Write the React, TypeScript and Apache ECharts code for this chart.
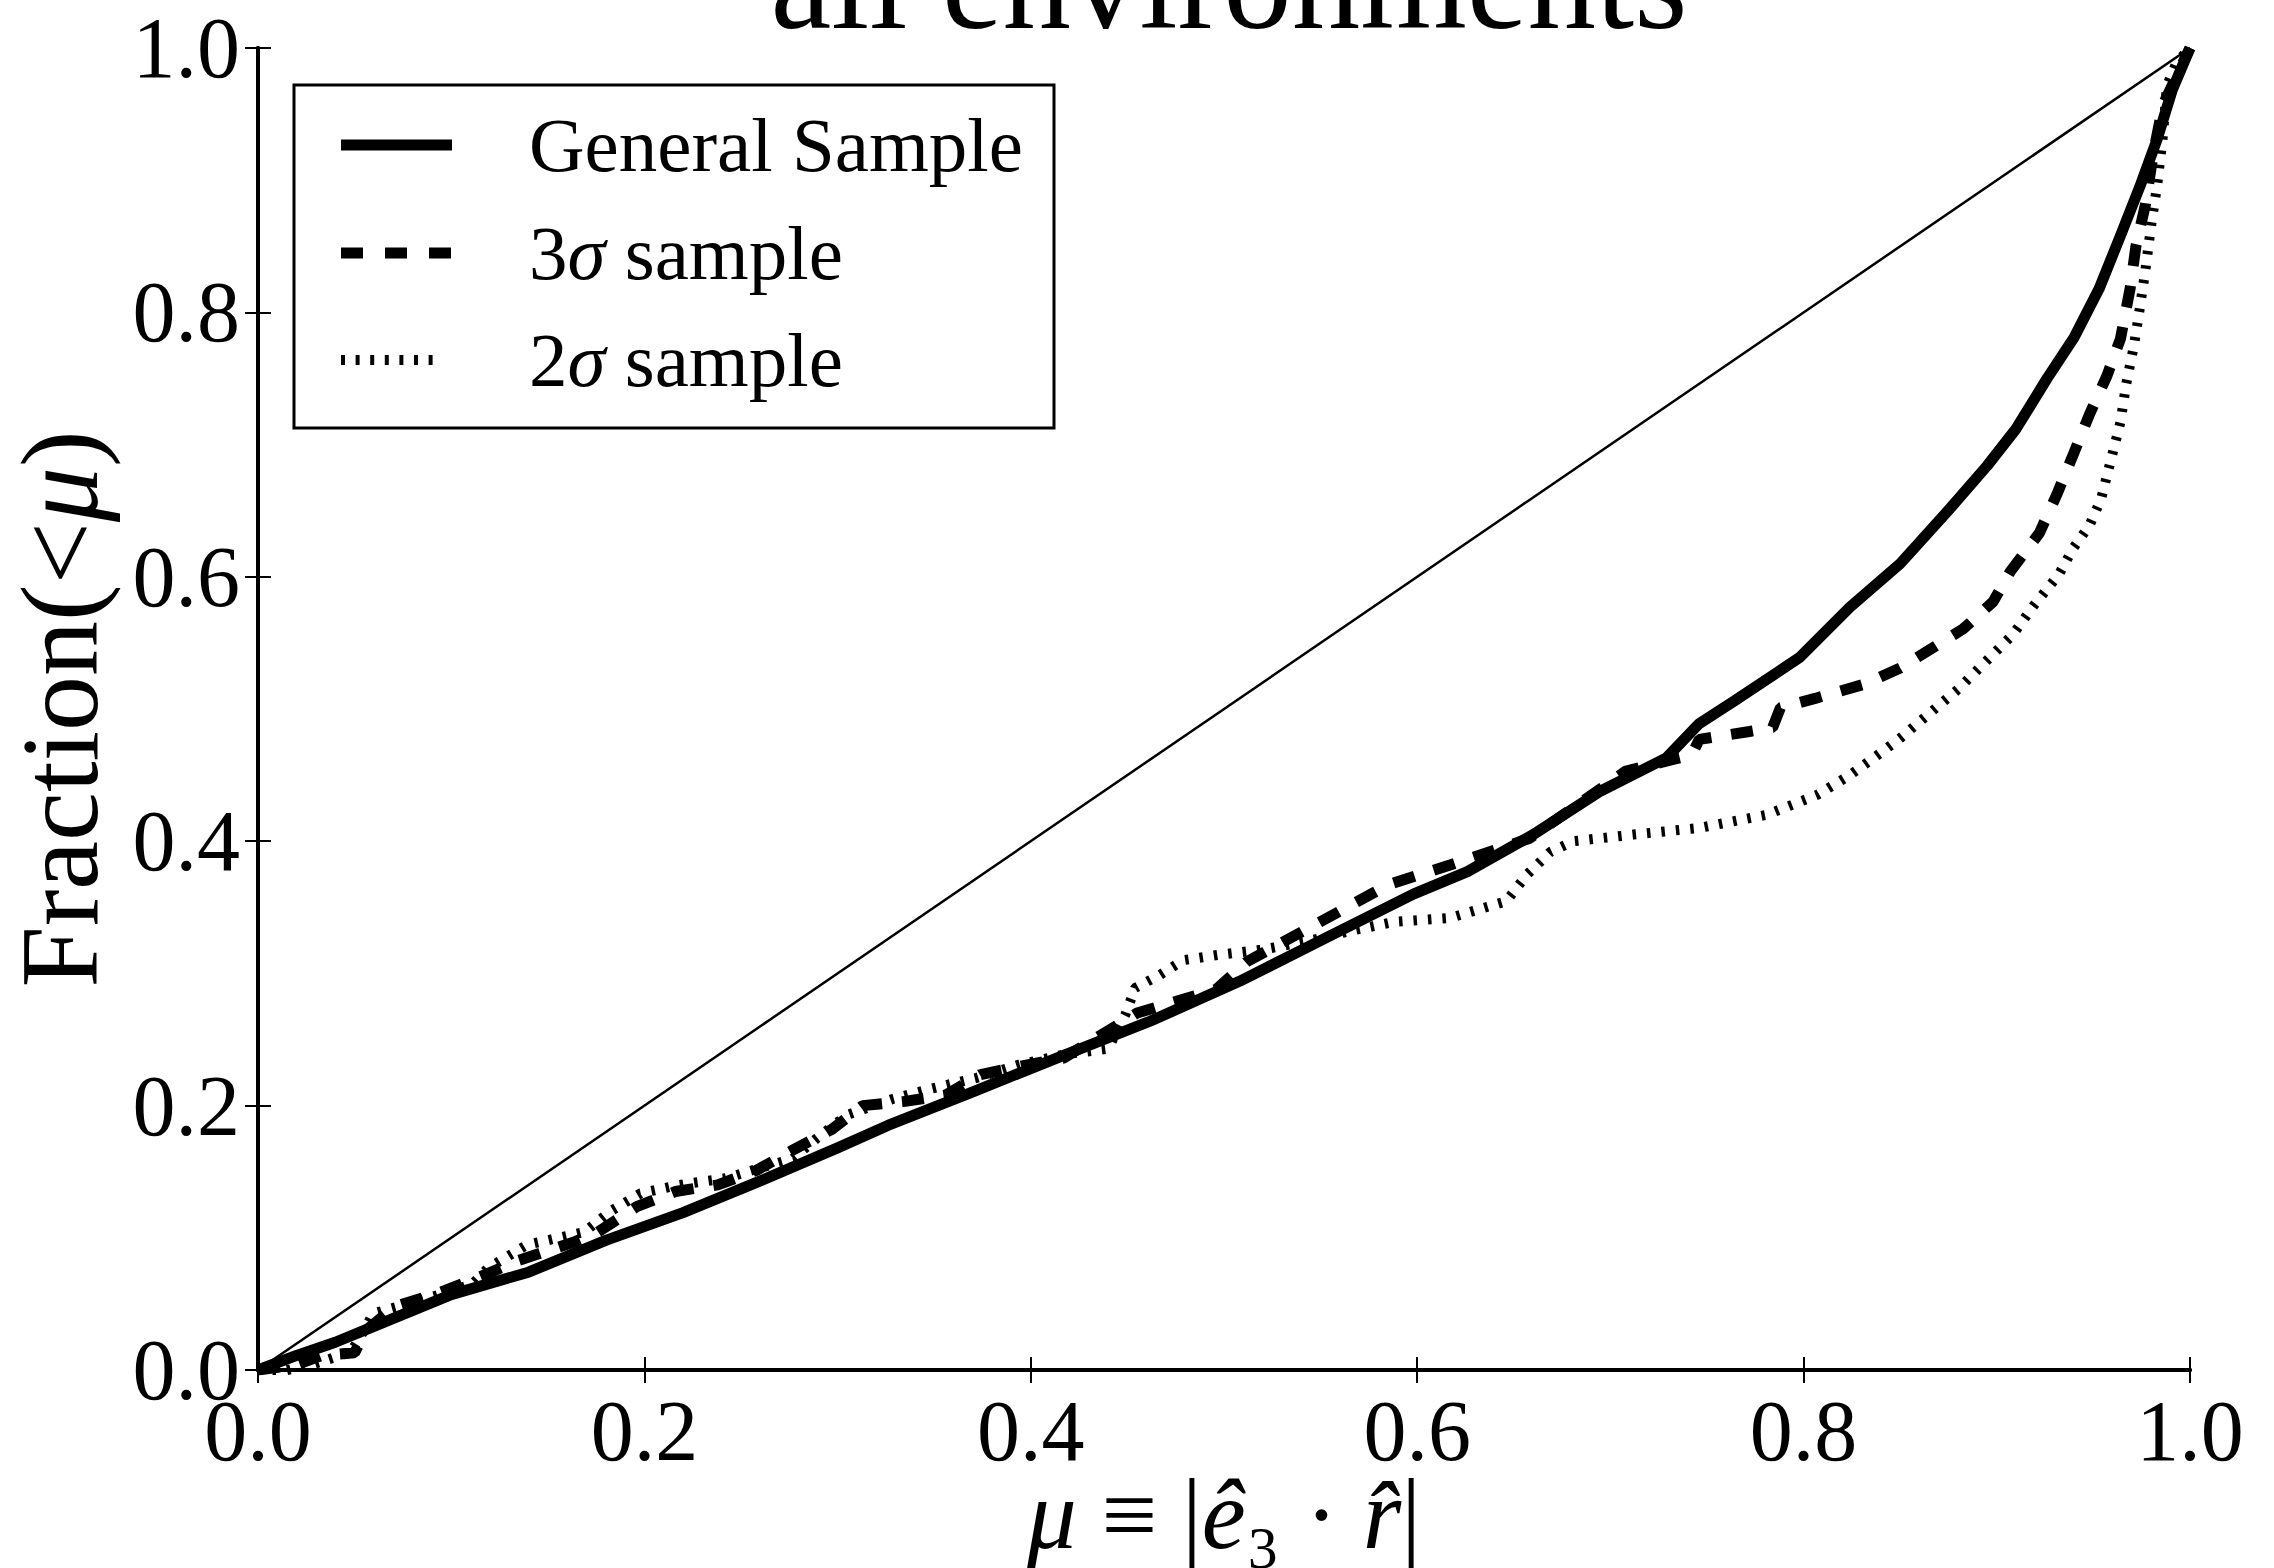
import React, { useEffect, useRef } from "react";
import * as echarts from "echarts";

const xTicks = [0, 0.2, 0.4, 0.6, 0.8, 1.0];

const generalX = [0, 0.02, 0.04, 0.06, 0.10, 0.14, 0.18, 0.22, 0.26, 0.30, 0.326, 0.371, 0.417, 0.462, 0.508, 0.553, 0.598, 0.626, 0.66, 0.695, 0.729, 0.746, 0.764, 0.798, 0.824, 0.85, 0.876, 0.895, 0.91, 0.926, 0.94, 0.953, 0.964, 0.974, 0.983, 0.991, 1.0];
const generalY = [0, 0.011, 0.021, 0.033, 0.057, 0.074, 0.098, 0.119, 0.143, 0.168, 0.185, 0.211, 0.238, 0.264, 0.294, 0.327, 0.36, 0.377, 0.405, 0.438, 0.463, 0.489, 0.506, 0.539, 0.577, 0.61, 0.652, 0.684, 0.712, 0.75, 0.781, 0.818, 0.858, 0.895, 0.931, 0.969, 1.0];

const sigma3X = [0, 0.02, 0.033, 0.05, 0.056, 0.071, 0.093, 0.115, 0.135, 0.164, 0.176, 0.196, 0.216, 0.238, 0.258, 0.277, 0.297, 0.313, 0.334, 0.356, 0.374, 0.399, 0.417, 0.455, 0.496, 0.512, 0.585, 0.617, 0.658, 0.708, 0.733, 0.742, 0.746, 0.772, 0.784, 0.788, 0.806, 0.832, 0.85, 0.8826, 0.898, 0.907, 0.922, 0.931, 0.94, 0.948, 0.957, 0.964, 0.969, 0.972, 0.977, 0.981, 0.986, 1.0];
const sigma3Y = [0, 0.004, 0.011, 0.013, 0.03, 0.048, 0.058, 0.0705, 0.083, 0.097, 0.1045, 0.1235, 0.135, 0.14, 0.151, 0.1665, 0.182, 0.2, 0.203, 0.208, 0.2235, 0.231, 0.236, 0.27, 0.288, 0.309, 0.367, 0.382, 0.402, 0.453, 0.462, 0.465, 0.477, 0.483, 0.486, 0.501, 0.508, 0.519, 0.531, 0.5606, 0.581, 0.604, 0.633, 0.662, 0.694, 0.723, 0.752, 0.78, 0.818, 0.85, 0.882, 0.92, 0.957, 1.0];

const sigma2X = [0, 0.015, 0.028, 0.048, 0.055, 0.0595, 0.075, 0.093, 0.111, 0.119, 0.139, 0.169, 0.182, 0.198, 0.218, 0.242, 0.258, 0.277, 0.289, 0.305, 0.3285, 0.349, 0.372, 0.394, 0.417, 0.44, 0.449, 0.454, 0.467, 0.479, 0.497, 0.52, 0.542, 0.565, 0.588, 0.617, 0.646, 0.657, 0.669, 0.681, 0.712, 0.746, 0.781, 0.807, 0.824, 0.841, 0.85, 0.88, 0.9085, 0.919, 0.932, 0.9395, 0.948, 0.954, 0.959, 0.964, 0.967, 0.971, 0.974, 0.977, 0.98, 0.983, 0.986, 0.988, 0.993, 1.0];
const sigma2Y = [0, 0.0, 0.004, 0.0136, 0.03, 0.0427, 0.049, 0.0566, 0.065, 0.077, 0.0945, 0.1045, 0.1197, 0.1336, 0.14, 0.145, 0.152, 0.16, 0.175, 0.193, 0.205, 0.213, 0.221, 0.231, 0.2386, 0.243, 0.269, 0.289, 0.299, 0.31, 0.314, 0.318, 0.324, 0.332, 0.339, 0.342, 0.3545, 0.375, 0.392, 0.4, 0.405, 0.41, 0.42, 0.435, 0.45, 0.468, 0.478, 0.515, 0.5566, 0.578, 0.6015, 0.6215, 0.639, 0.659, 0.688, 0.717, 0.746, 0.775, 0.803, 0.833, 0.867, 0.896, 0.934, 0.971, 0.989, 1.0];

const diagX = [0, 1];
const diagY = [0, 1];

const seriesNames = ["General Sample", "3σ sample", "2σ sample"];
const titleText = "all environments";

const FONT = "'Liberation Serif', 'DejaVu Serif', serif";

const zip = (xs: number[], ys: number[]) => xs.map((x, i) => [x, ys[i]]);

export default function App() {
  const ref = useRef<HTMLDivElement>(null);
  useEffect(() => {
    document.body.style.margin = "0";
    const chart = echarts.init(ref.current!, undefined, { renderer: "svg" });
    const L = 258, T = 48, W = 1932, H = 1322;
    const axisCommon = {
      type: "value",
      min: 0,
      max: 1,
      interval: 0.2,
      splitLine: { show: false },
      axisLine: { show: true, lineStyle: { color: "#000", width: 4 } },
      axisTick: { show: true, inside: true, length: 13, lineStyle: { color: "#000", width: 2 } },
    };
    const labelCommon = {
      color: "#000",
      fontFamily: FONT,
      fontSize: 86,
      showMinLabel: true,
      showMaxLabel: true,
      formatter: (v: number) => v.toFixed(1),
    };
    const legendX0 = 341, legendX1 = 452, legendTextX = 529;
    const rowsY = [145, 253, 360];
    const rich = {
      n: { fontFamily: FONT, fontSize: 77, color: "#000" },
      i: { fontFamily: FONT, fontSize: 77, fontStyle: "italic", color: "#000" },
    };
    const xRich = {
      n: { fontFamily: FONT, fontSize: 99, lineHeight: 90, color: "#000" },
      i: { fontFamily: FONT, fontSize: 99, lineHeight: 90, fontStyle: "italic", color: "#000" },
      s: { fontFamily: FONT, fontSize: 99, lineHeight: 90, color: "#000" },
    };
    chart.setOption({
      animation: false,
      backgroundColor: "#fff",
      title: {
        text: titleText,
        left: L + W / 2,
        textAlign: "center",
        top: -92,
        textStyle: { fontFamily: FONT, fontSize: 137, fontWeight: "normal", color: "#000" },
      },
      grid: { left: L, top: T, width: W, height: H, containLabel: false, outerBoundsMode: "none" },
      xAxis: [
        {
          ...axisCommon,
          position: "bottom",
          axisLabel: { ...labelCommon, margin: 18 },
        },
        {
          ...axisCommon,
          position: "top",
          axisLabel: { show: false },
        },
      ],
      yAxis: [
        {
          ...axisCommon,
          position: "left",
          axisLabel: { ...labelCommon, margin: 18 },
          name: "{n|Fraction(<}{i|μ}{n|)}",
          nameLocation: "middle",
          nameGap: 143,
          nameTextStyle: {
            rich: {
              n: { fontFamily: FONT, fontSize: 110, color: "#000" },
              i: { fontFamily: FONT, fontSize: 110, fontStyle: "italic", color: "#000" },
            },
          },
        },
        {
          ...axisCommon,
          position: "right",
          axisLabel: { show: false },
        },
      ],
      series: [
        {
          type: "line",
          name: "diagonal",
          data: zip(diagX, diagY),
          showSymbol: false,
          symbol: "none",
          lineStyle: { color: "#000", width: 2.5 },
          z: 2,
        },
        {
          type: "line",
          name: seriesNames[0],
          data: zip(generalX, generalY),
          showSymbol: false,
          symbol: "none",
          lineStyle: { color: "#000", width: 11, join: "round" },
          z: 3,
        },
        {
          type: "line",
          name: seriesNames[1],
          data: zip(sigma3X, sigma3Y),
          showSymbol: false,
          symbol: "none",
          lineStyle: { color: "#000", width: 11, type: [22, 20] },
          z: 3,
        },
        {
          type: "line",
          name: seriesNames[2],
          data: zip(sigma2X, sigma2Y),
          showSymbol: false,
          symbol: "none",
          lineStyle: { color: "#000", width: 10, type: [3.5, 11] },
          z: 3,
        },
      ],
      graphic: [
        {
          type: "text",
          x: L + W / 2,
          y: 1514,
          style: {
            text: "{i|μ}{n| ≡ |}{i|ê}{s|₃}{n| · }{i|r̂}{n||}",
            rich: xRich,
            align: "center",
            verticalAlign: "middle",
          },
        },
        {
          type: "group",
          z: 100,
          children: [
            {
              type: "rect",
              shape: { x: 294, y: 85, width: 760, height: 343 },
              style: { fill: "#fff", stroke: "#000", lineWidth: 3 },
            },
            {
              type: "line",
              shape: { x1: legendX0, y1: rowsY[0], x2: legendX1, y2: rowsY[0] },
              style: { stroke: "#000", lineWidth: 11 },
            },
            {
              type: "line",
              shape: { x1: legendX0, y1: rowsY[1], x2: legendX1, y2: rowsY[1] },
              style: { stroke: "#000", lineWidth: 11, lineDash: [22, 22] },
            },
            {
              type: "line",
              shape: { x1: legendX0, y1: rowsY[2], x2: legendX1 - 15, y2: rowsY[2] },
              style: { stroke: "#000", lineWidth: 10, lineDash: [4, 10.6] },
            },
            {
              type: "text",
              x: legendTextX,
              y: rowsY[0],
              style: { text: "{n|General Sample}", rich, verticalAlign: "middle", align: "left" },
            },
            {
              type: "text",
              x: legendTextX,
              y: rowsY[1],
              style: { text: "{n|3}{i|σ}{n| sample}", rich, verticalAlign: "middle", align: "left" },
            },
            {
              type: "text",
              x: legendTextX,
              y: rowsY[2],
              style: { text: "{n|2}{i|σ}{n| sample}", rich, verticalAlign: "middle", align: "left" },
            },
          ],
        },
      ],
    });
    return () => chart.dispose();
  }, []);
  return <div ref={ref} style={{ width: 2274, height: 1568, position: "fixed", left: 0, top: 0 }} />;
}
